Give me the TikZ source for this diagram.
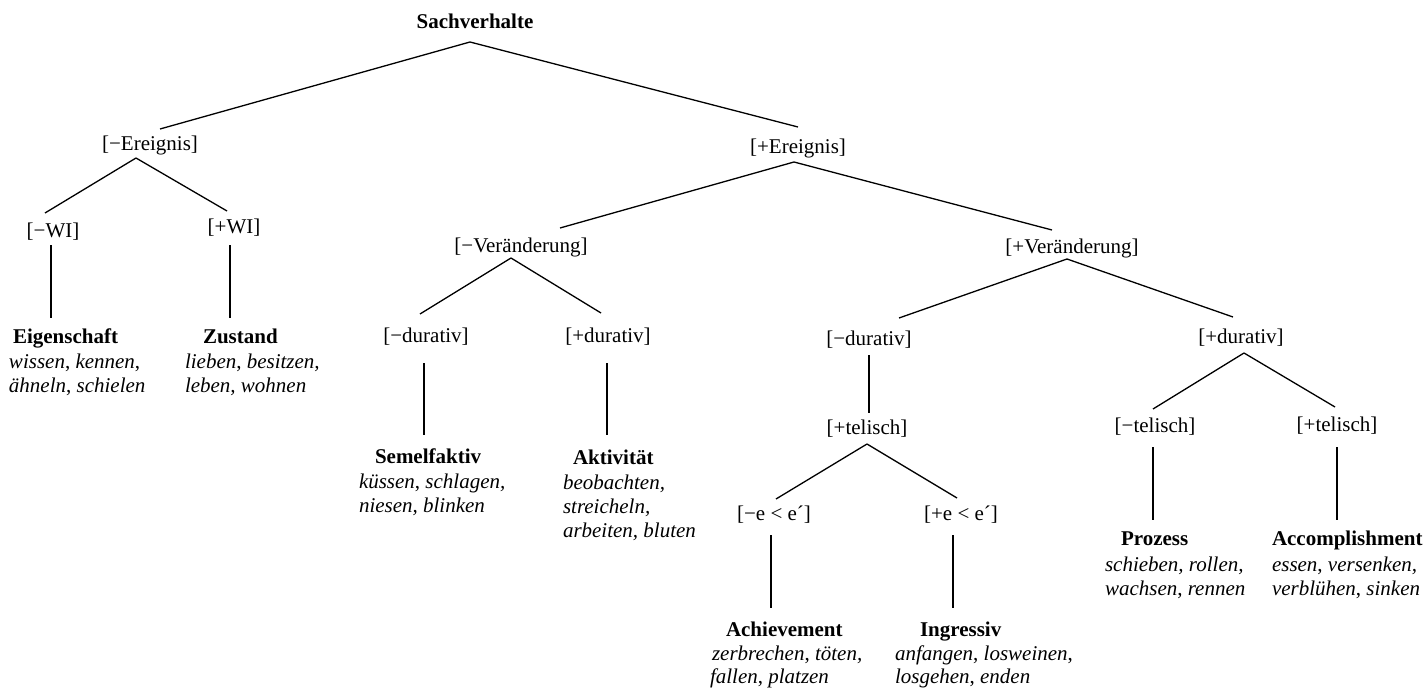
\documentclass[tikz,border=0pt]{standalone}
\usepackage{fontspec}
\setmainfont{Liberation Serif}
\usetikzlibrary{calc}
\tikzset{
  every node/.style={inner sep=0pt, outer sep=0pt, font=\fontsize{10.5}{12}\selectfont, text height=7.3pt, text depth=1.7pt},
  feat/.style={anchor=center},
  leaftitle/.style={anchor=west, font=\fontsize{10.5}{12}\selectfont\bfseries},
  example/.style={anchor=west, font=\fontsize{10.5}{12}\selectfont},
  branch/.style={line width=0.65pt, black},
}
\newcommand{\conn}[4]{\draw[branch] ($(#1)+(#2)$) -- ($(#3)+(#4)$);}
\begin{document}
\begin{tikzpicture}[x=0.5pt,y=-0.5pt]
\useasboundingbox (0,0) rectangle (1425,690);
% root
\node[feat, font=\fontsize{10.5}{12}\selectfont\bfseries] (sach) at (475,23) {Sachverhalte};
% features
\node[feat] (em)  at (150,145) {[−Ereignis]};
\node[feat] (ep)  at (798,148) {[+Ereignis]};
\node[feat] (wim) at (53,232)  {[−WI]};
\node[feat] (wip) at (234,228) {[+WI]};
\node[feat] (vm)  at (521,247) {[−Veränderung]};
\node[feat] (vp)  at (1072,248) {[+Veränderung]};
\node[feat] (dma) at (426,337) {[−durativ]};
\node[feat] (dpa) at (608,337) {[+durativ]};
\node[feat] (dmb) at (869,340) {[−durativ]};
\node[feat] (dpb) at (1241,338) {[+durativ]};
\node[feat] (tpa) at (867,429) {[+telisch]};
\node[feat] (tmb) at (1155,427) {[−telisch]};
\node[feat] (tpb) at (1337,426) {[+telisch]};
\node[feat] (eem) at (774,515) {[−e < e´]};
\node[feat] (eep) at (961,515) {[+e < e´]};
% leaves
\node[leaftitle] (eig) at (13,338) {Eigenschaft};
\node[example] (eig1) at (9,363) {\textit{wissen}, \textit{kennen},};
\node[example] (eig2) at (9,387) {\textit{ähneln}, \textit{schielen}};
\node[leaftitle] (zus) at (203,338) {Zustand};
\node[example] (zus1) at (185,363) {\textit{lieben}, \textit{besitzen,}};
\node[example] (zus2) at (185,387) {\textit{leben, wohnen}};
\node[leaftitle] (sem) at (375,458) {Semelfaktiv};
\node[example] (sem1) at (359,483) {\textit{küssen}, \textit{schlagen,}};
\node[example] (sem2) at (359,507) {\textit{niesen, blinken}};
\node[leaftitle] (akt) at (573,459) {Aktivität};
\node[example] (akt1) at (563,484) {\textit{beobachten,}};
\node[example] (akt2) at (563,508) {\textit{streicheln,}};
\node[example] (akt3) at (563,532) {\textit{arbeiten, bluten}};
\node[leaftitle] (ach) at (726,631) {Achievement};
\node[example] (ach1) at (712,655) {\textit{zerbrechen}, \textit{töten,}};
\node[example] (ach2) at (710,678) {\textit{fallen}, \textit{platzen}};
\node[leaftitle] (ing) at (920,631) {Ingressiv};
\node[example] (ing1) at (895,655) {\textit{anfangen}, \textit{losweinen},};
\node[example] (ing2) at (895,678) {\textit{losgehen}, \textit{enden}};
\node[leaftitle] (pro) at (1121,540) {Prozess};
\node[example] (pro1) at (1105,566) {\textit{schieben, rollen,}};
\node[example] (pro2) at (1105,590) {\textit{wachsen}, \textit{rennen}};
\node[leaftitle] (acc) at (1272,540) {Accomplishment};
\node[example] (acc1) at (1272,566) {\textit{essen}, \textit{versenken,}};
\node[example] (acc2) at (1272,590) {\textit{verblühen}, \textit{sinken}};
% connectors
\conn{sach}{-5,19}{em}{10,-16}
\conn{sach}{-5,19}{ep}{0,-21}
\conn{em}{-14,13}{wim}{-8,-19}
\conn{em}{-14,13}{wip}{-7,-17}
\conn{wim}{-2,13}{eig.west}{38,-20}
\conn{wip}{-4,17}{zus.west}{27,-20}
\conn{ep}{-4,14}{vm}{39,-19}
\conn{ep}{-4,14}{vp}{-20,-18}
\conn{vm}{-10,11}{dma}{-6,-23}
\conn{vm}{-10,11}{dpa}{-7,-24}
\conn{dma}{-2,26}{sem.west}{49,-23}
\conn{dpa}{-1,26}{akt.west}{34,-24}
\conn{vp}{-5,11}{dmb}{30,-22}
\conn{vp}{-5,11}{dpb}{-8,-21}
\conn{dmb}{0,15}{tpa}{2,-16}
\conn{tpa}{0,15}{eem}{2,-16}
\conn{tpa}{0,15}{eep}{-4,-17}
\conn{eem}{-3,20}{ach.west}{45,-23}
\conn{eep}{-8,20}{ing.west}{33,-23}
\conn{dpb}{3,15}{tmb}{-2,-18}
\conn{dpb}{3,15}{tpb}{-2,-19}
\conn{tmb}{-2,20}{pro.west}{32,-20}
\conn{tpb}{0,21}{acc.west}{65,-20}
\end{tikzpicture}
\end{document}
